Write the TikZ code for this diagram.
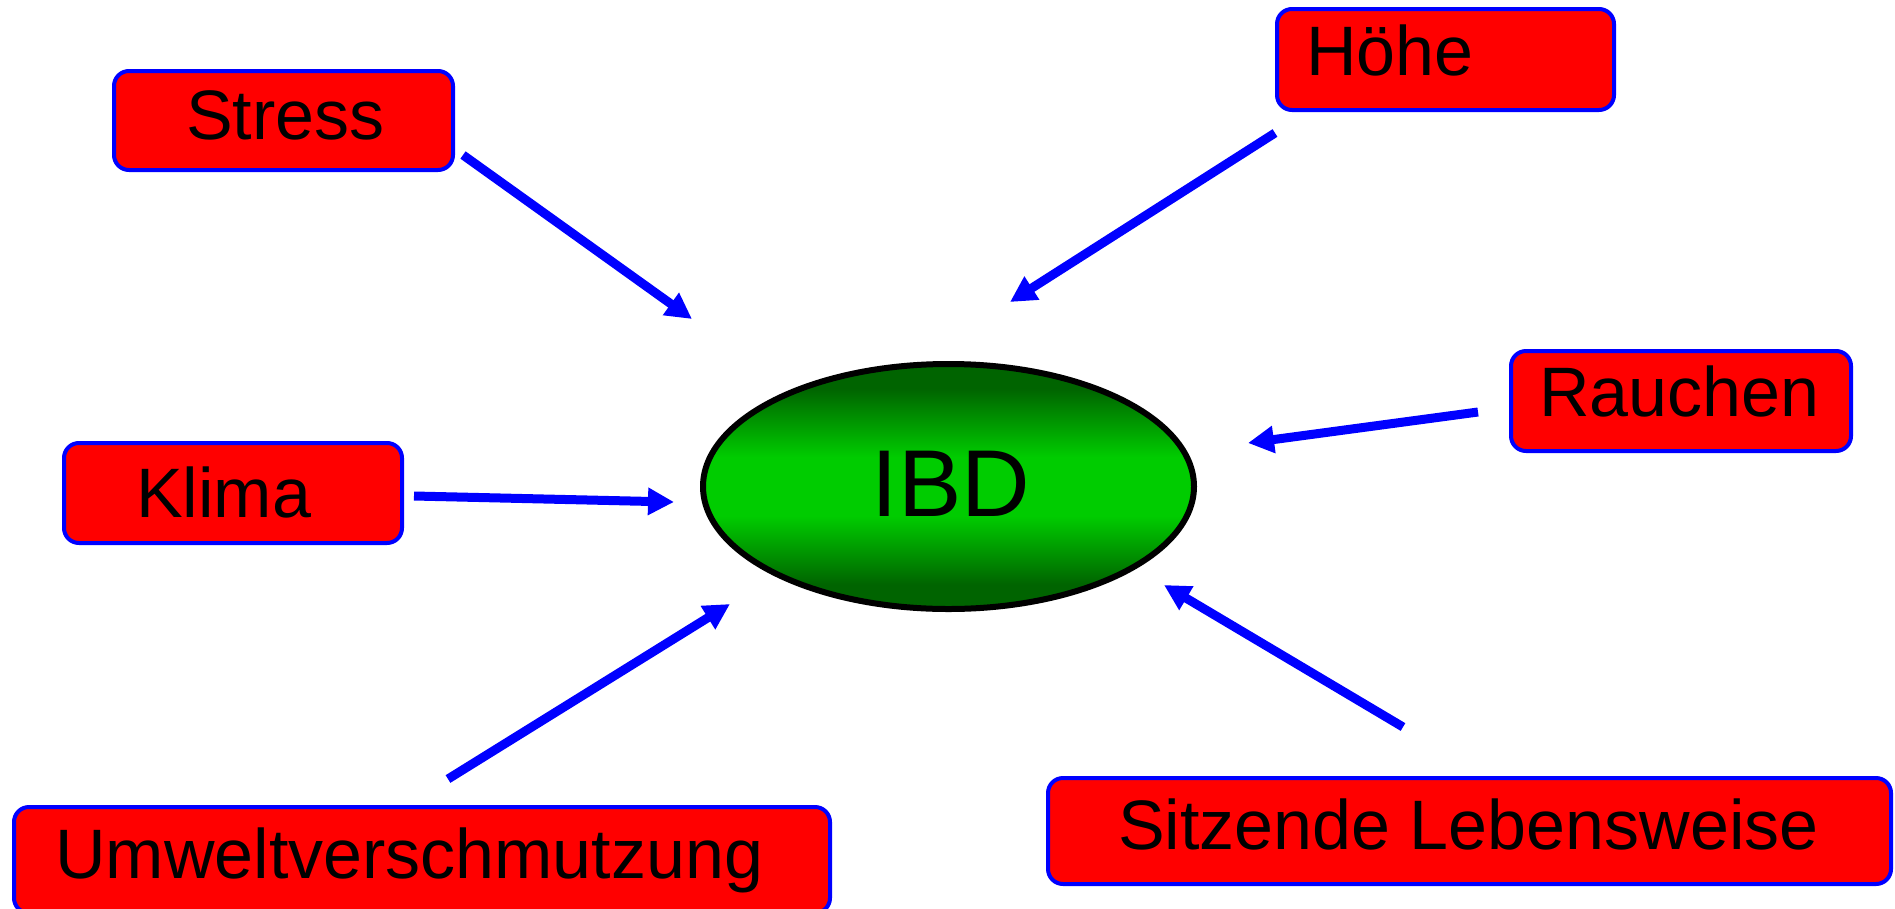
\documentclass[tikz,border=0pt]{standalone}
\usepackage{fontspec}
\setmainfont{Liberation Sans}
\usetikzlibrary{arrows.meta,shapes.geometric}
\definecolor{dkgreen}{RGB}{0,100,0}
\definecolor{ltgreen}{RGB}{0,204,0}
\definecolor{boxblue}{RGB}{0,0,255}
\definecolor{boxred}{RGB}{255,0,0}
\pgfdeclareverticalshading{ibdshade}{100bp}{color(0bp)=(dkgreen); color(30bp)=(dkgreen); color(44bp)=(ltgreen); color(56bp)=(ltgreen); color(70bp)=(dkgreen); color(100bp)=(dkgreen)}
\tikzset{
  factorbox/.style={draw=boxblue, fill=boxred, line width=4pt, rounded corners=15pt, inner sep=0pt},
  factortext/.style={anchor=base west, inner sep=0pt, font=\fontsize{70}{84}\selectfont},
  influence/.style={draw=boxblue, line width=9pt, -{Triangle[length=26pt,width=26pt]}},
}
\begin{document}
\begin{tikzpicture}[x=1pt,y=-1pt]
\useasboundingbox (0,0) rectangle (1895,908);
\fill[white] (0,0) rectangle (1895,908);

% boxes
\node[factorbox, minimum width=339pt, minimum height=99pt] (stress) at (283.5,120.5) {};
\node[factorbox, minimum width=337pt, minimum height=101pt] (hoehe) at (1445.5,59.5) {};
\node[factorbox, minimum width=340pt, minimum height=100pt] (rauchen) at (1681,401) {};
\node[factorbox, minimum width=338pt, minimum height=100pt] (klima) at (233,493) {};
\node[factorbox, minimum width=816pt, minimum height=106pt] (umwelt) at (422,860) {};
\node[factorbox, minimum width=843pt, minimum height=106pt] (sitzende) at (1469.5,831) {};

% texts
\node[factortext] (tstress) at (186,139) {Stress};
\node[factortext] (thoehe) at (1306,75) {Höhe};
\node[factortext] (trauchen) at (1539,416) {Rauchen};
\node[factortext] (tklima) at (136,517) {Klima};
\node[factortext] (tumwelt) at (55,878) {Umweltverschmutzung};
\node[factortext] (tsitzende) at (1118,849) {Sitzende Lebensweise};

% central ellipse
\node[ellipse, draw=black, line width=6pt, minimum width=491pt, minimum height=245pt, inner sep=0pt,
      shading=ibdshade] (ibd) at (948.5,486.5) {};
\node[anchor=base, inner sep=0pt, font=\fontsize{95}{114}\selectfont] (tibd) at (951,516) {IBD};

% arrow end points
\coordinate (s1) at (463,155);   \coordinate (e1) at (692,319);
\coordinate (s2) at (1275,133);  \coordinate (e2) at (1010,302);
\coordinate (s3) at (1478,412);  \coordinate (e3) at (1248,443);
\coordinate (s4) at (414,496);   \coordinate (e4) at (674,502);
\coordinate (s5) at (448,779);   \coordinate (e5) at (730,604);
\coordinate (s6) at (1403,727);  \coordinate (e6) at (1164,585);

\draw[influence] (s1) -- (e1);
\draw[influence] (s2) -- (e2);
\draw[influence] (s3) -- (e3);
\draw[influence] (s4) -- (e4);
\draw[influence] (s5) -- (e5);
\draw[influence] (s6) -- (e6);
\end{tikzpicture}
\end{document}
